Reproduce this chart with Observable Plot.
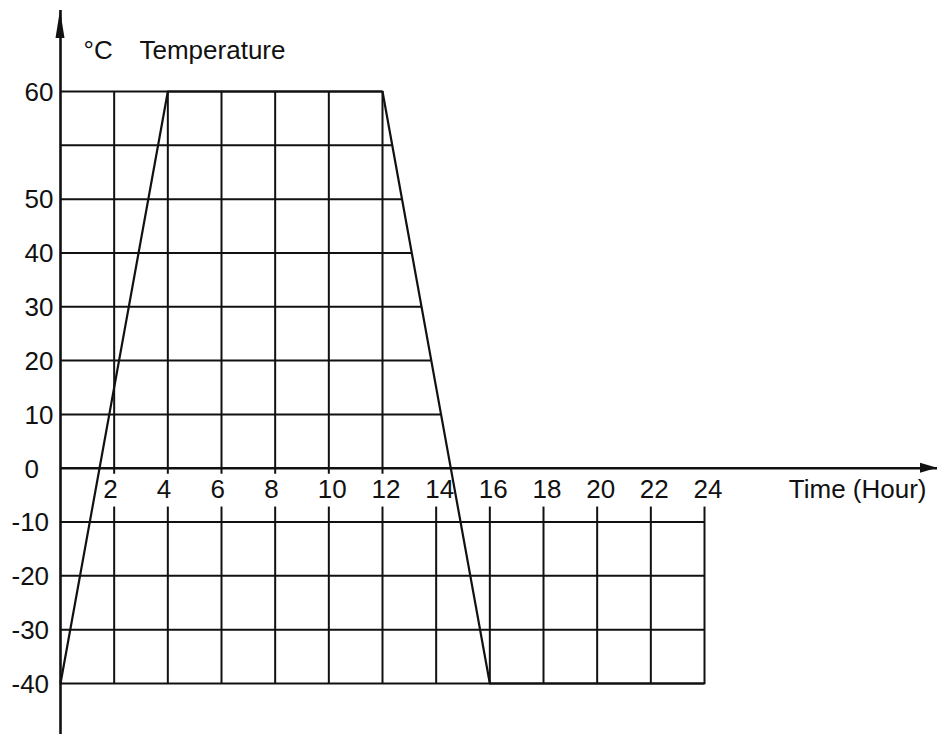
<!DOCTYPE html>
<html><head><meta charset="utf-8">
<script src="https://cdn.jsdelivr.net/npm/d3@7"></script>
<script src="https://cdn.jsdelivr.net/npm/@observablehq/plot@0.6"></script>
<style>
  html, body { margin: 0; padding: 0; background: #fff; }
  #chart svg { display: block; }
</style>
</head><body><div id="chart"></div>
<script>
// ---- data ----
const time = [0, 4, 12, 16, 24];
const temperature = [-40, 60, 60, -40, -40];

const yTickValues = [60, 50, 40, 30, 20, 10, 0, -10, -20, -30, -40];
const xTickValues = [2, 4, 6, 8, 10, 12, 14, 16, 18, 20, 22, 24];

const upperGridY = [10, 20, 30, 40, 50, 55, 60];
const lowerGridY = [-10, -20, -30, -40];
const upperGridX = [2, 4, 6, 8, 10, 12];
const lowerGridX = [2, 4, 6, 8, 10, 12, 14, 16, 18, 20, 22, 24];

const unitLabel = "°C";
const yTitle = "Temperature";
const xTitle = "Time (Hour)";

// ---- scales: above 50 the axis is stretched (the 60 level sits one step above the 55 gridline) ----
const stretch = v => (v > 50 ? 50 + (v - 50) * 2 : v);
const yDomain = [-40, 70];   // in stretched units
const yRange = [683, 91];
const xDomain = [0, 24];
const xRange = [60, 704];

const points = time.map((t, i) => ({time: t, temp: temperature[i]}));

// horizontal gridlines in the upper part end on the falling edge (12h,60 -> 16h,-40)
const yS = d3.scaleLinear().domain(yDomain).range(yRange);
const py = v => yS(stretch(v));
const fallA = points[2], fallB = points[3];
function fallX(v) {
  const t = (py(v) - py(fallA.temp)) / (py(fallB.temp) - py(fallA.temp));
  return fallA.time + t * (fallB.time - fallA.time);
}
const upperRows = upperGridY.map(v => ({y: v, x2: fallX(v)}));

const ink = "#111";
const fs = 26;

function arrowHeads(index, scales, values, dimensions) {
  const ns = "http://www.w3.org/2000/svg";
  const g = document.createElementNS(ns, "g");
  const x0 = scales.x(0), y0 = scales.y(0);
  const top = dimensions.marginTop;
  const right = dimensions.width - dimensions.marginRight;
  const a = document.createElementNS(ns, "path");
  a.setAttribute("d", `M${x0},${top}L${x0 - 4.5},${top + 28}L${x0 + 4.5},${top + 28}Z`);
  a.setAttribute("fill", ink);
  const b = document.createElementNS(ns, "path");
  b.setAttribute("d", `M${right},${y0}L${right - 17},${y0 - 5}L${right - 17},${y0 + 5}Z`);
  b.setAttribute("fill", ink);
  g.appendChild(a); g.appendChild(b);
  return g;
}

const chart = Plot.plot({
  width: 938,
  height: 734,
  marginLeft: 60,
  marginRight: 1,
  marginTop: 10,
  marginBottom: 0,
  style: {background: "#fff", color: ink, fontFamily: "'Liberation Sans', Arial, Helvetica, sans-serif", fontSize: fs + "px"},
  x: {domain: xDomain, range: xRange, axis: null},
  y: {domain: yDomain, range: yRange, transform: stretch, axis: null},
  marks: [
    // upper grid
    Plot.ruleY(upperRows, {y: "y", x1: 0, x2: "x2", stroke: ink, strokeWidth: 2}),
    Plot.ruleX(upperGridX, {x: d => d, y1: 60, y2: 0, insetBottom: -6, stroke: ink, strokeWidth: 2}),
    // lower grid
    Plot.ruleY(lowerGridY, {y: d => d, x1: 0, x2: 24, stroke: ink, strokeWidth: 2}),
    Plot.ruleX(lowerGridX, {x: d => d, y1: -10, y2: -40, insetTop: -15, stroke: ink, strokeWidth: 2}),
    // axes
    Plot.ruleX([0], {stroke: ink, strokeWidth: 2.6}),
    Plot.ruleY([0], {stroke: ink, strokeWidth: 2.6}),
    arrowHeads,
    // temperature profile
    Plot.line(points, {x: "time", y: "temp", stroke: ink, strokeWidth: 2.2}),
    // y tick labels
    Plot.text(yTickValues.filter(d => d >= 0), {y: d => d, text: d => String(d), frameAnchor: "left", textAnchor: "start", dx: -36, dy: 1, fontSize: fs}),
    Plot.text(yTickValues.filter(d => d < 0), {y: d => d, text: d => "-" + String(-d), frameAnchor: "left", textAnchor: "start", dx: -49, dy: 1, fontSize: fs}),
    // x tick labels
    Plot.text(xTickValues, {x: d => d, y: () => 0, text: d => String(d), textAnchor: "start", lineAnchor: "bottom", dx: -11, dy: 30, fontSize: fs}),
    // titles
    Plot.text([xTitle], {frameAnchor: "right", y: () => 0, text: d => d, textAnchor: "end", lineAnchor: "bottom", dx: -11, dy: 30, fontSize: fs}),
    Plot.text([unitLabel], {frameAnchor: "top-left", text: d => d, textAnchor: "start", lineAnchor: "bottom", dx: 23, dy: 48, fontSize: fs}),
    Plot.text([yTitle], {frameAnchor: "top-left", text: d => d, textAnchor: "start", lineAnchor: "bottom", dx: 79, dy: 48, fontSize: fs})
  ]
});
document.getElementById("chart").appendChild(chart);
</script>
</body></html>
